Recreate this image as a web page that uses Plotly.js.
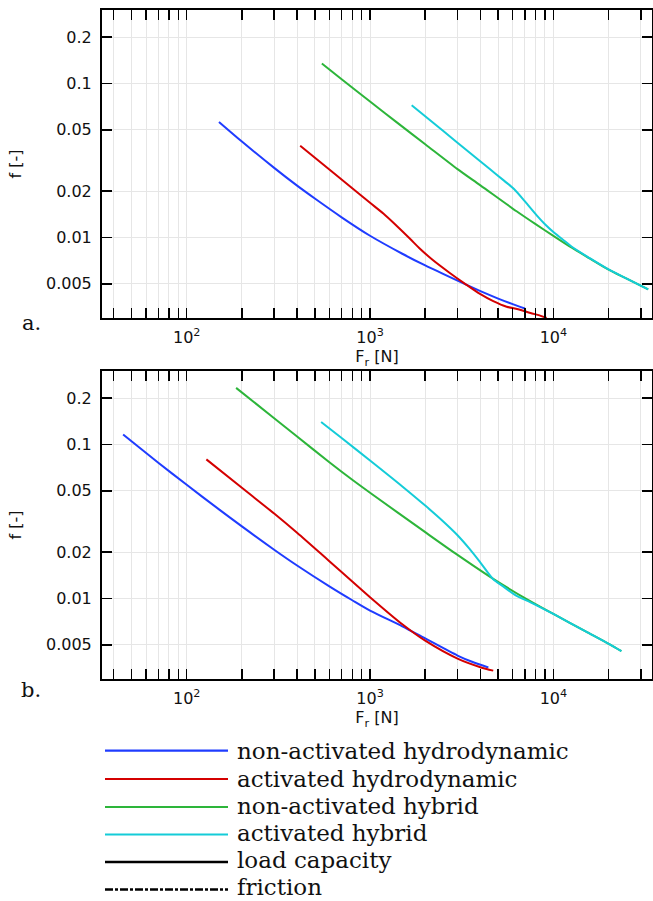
<!DOCTYPE html>
<html>
<head>
<meta charset="utf-8">
<script src="https://cdn.plot.ly/plotly-3.0.1.min.js"></script>
<style>
  html, body { margin:0; padding:0; background:#fff; }
  #chart { width:653px; height:901px; }
</style>
</head>
<body>
<div id="chart"></div>
<script>
// ---------- DATA ----------
// Panel a.
const aBlueF  = [150, 200, 300, 400, 500, 700, 1000, 1500, 2000, 3000, 4000, 5000, 6000, 7000];
const aBlueFr = [0.0563, 0.0420, 0.0283, 0.0217, 0.0179, 0.01352, 0.01026, 0.00784, 0.00658, 0.00524, 0.00448, 0.00401, 0.00369, 0.00346];

const aRedF  = [416, 600, 800, 1000, 1182, 1400, 1652, 1872, 2200, 2700, 3300, 3980, 4700, 5560, 6500, 7500, 8400, 9190];
const aRedFr = [0.0394, 0.0276, 0.0209, 0.0168, 0.0143, 0.01187, 0.00981, 0.00845, 0.00714, 0.00593, 0.0050, 0.0043, 0.00386, 0.00355, 0.00341, 0.00323, 0.00312, 0.00300];

const aGreenF  = [546, 700, 1000, 1400, 2000, 3000, 4000, 6300, 8000, 10000, 12600, 15850, 20000, 25120, 32900];
const aGreenFr = [0.135, 0.1066, 0.0764, 0.0559, 0.0403, 0.0278, 0.0218, 0.0148, 0.0122, 0.01025, 0.00858, 0.00729, 0.00619, 0.0054, 0.0046];

const aCyanF  = [1687, 2500, 3500, 4500, 5400, 6100, 7000, 8090, 9000, 10000, 11200, 12600, 15850, 20000, 25120, 32900];
const aCyanFr = [0.0723, 0.0493, 0.0355, 0.0278, 0.0233, 0.02065, 0.01714, 0.01398, 0.01219, 0.01085, 0.00975, 0.0087, 0.00732, 0.0062, 0.0054, 0.0046];

// Panel b.
const bBlueF  = [45, 70, 100, 150, 200, 300, 400, 600, 800, 1000, 1500, 2000, 3000, 3600, 4420];
const bBlueFr = [0.116, 0.0762, 0.0547, 0.0379, 0.02938, 0.02073, 0.01637, 0.01199, 0.00974, 0.00835, 0.0066, 0.0055, 0.00426, 0.00388, 0.00356];

const bRedF  = [128, 200, 300, 400, 600, 800, 1000, 1500, 2000, 3000, 4000, 4700];
const bRedFr = [0.080, 0.0523, 0.0356, 0.0267, 0.01745, 0.0129, 0.0102, 0.0068, 0.00532, 0.00407, 0.00358, 0.0034];

const bGreenF  = [186, 300, 400, 600, 800, 1000, 2000, 3000, 4700, 7150, 10000, 15000, 20300, 23500];
const bGreenFr = [0.233, 0.1482, 0.1127, 0.0767, 0.059, 0.0486, 0.02695, 0.01918, 0.0134, 0.0099, 0.00793, 0.00612, 0.00504, 0.00455];

const bCyanF  = [541, 700, 1000, 1500, 2000, 2500, 3000, 3500, 4000, 4700, 5300, 6170, 7760, 10000, 15000, 20300, 23500];
const bCyanFr = [0.140, 0.1101, 0.0787, 0.0534, 0.0401, 0.03173, 0.02574, 0.0209, 0.0171, 0.01332, 0.01203, 0.01057, 0.00927, 0.00793, 0.00612, 0.00504, 0.00455];

// Tick labels
const xMajorVals = [100, 1000, 10000];
const xMajorText = ['10<sup>2</sup>', '10<sup>3</sup>', '10<sup>4</sup>'];
const xMinorVals = [40,50,60,70,80,90,200,300,400,500,600,700,800,900,2000,3000,4000,5000,6000,7000,8000,9000,20000,30000];
const yTickVals = [0.005, 0.01, 0.02, 0.05, 0.1, 0.2];
const yTickText = ['0.005', '0.01', '0.02', '0.05', '0.1', '0.2'];

// Legend
const legendLabels = ['non-activated hydrodynamic', 'activated hydrodynamic', 'non-activated hybrid', 'activated hybrid', 'load capacity', 'friction'];
const panelLabels = ['a.', 'b.'];

// ---------- STYLE ----------
const COL = { blue:'#1f3cff', red:'#d40000', green:'#2db53a', cyan:'#14ccd8', black:'#000000' };
const legendColors = [COL.blue, COL.red, COL.green, COL.cyan, COL.black, COL.black];
const legendDash = ['solid', 'solid', 'solid', 'solid', 'solid', '8px,2px,3px,2px'];

const M = { l:102, r:1, t:10, b:222 };
const PW = 653 - M.l - M.r, PH = 901 - M.t - M.b;
const px2x = px => (px - M.l) / PW;
const py2y = py => (901 - M.b - py) / PH;

function tr(x, y, color, xa, ya) {
  return { x, y, xaxis:xa, yaxis:ya, type:'scatter', mode:'lines',
           line:{ color, width:2, shape:'spline', smoothing:0.8 },
           hoverinfo:'skip', showlegend:false };
}

const data = [
  tr(aBlueF, aBlueFr, COL.blue, 'x', 'y'),
  tr(aRedF, aRedFr, COL.red, 'x', 'y'),
  tr(aGreenF, aGreenFr, COL.green, 'x', 'y'),
  tr(aCyanF, aCyanFr, COL.cyan, 'x', 'y'),
  tr(bBlueF, bBlueFr, COL.blue, 'x2', 'y2'),
  tr(bRedF, bRedFr, COL.red, 'x2', 'y2'),
  tr(bGreenF, bGreenFr, COL.green, 'x2', 'y2'),
  tr(bCyanF, bCyanFr, COL.cyan, 'x2', 'y2'),
];

const tickFont = { family:'DejaVu Sans', size:16, color:'#111' };
const titleFont = { family:'DejaVu Sans', size:16, color:'#111' };

function xAxis(anchor) {
  return {
    type:'log', range:[1.538, 4.538], anchor,
    tickvals:xMajorVals, ticktext:xMajorText, tickmode:'array',
    ticks:'inside', ticklen:10, tickwidth:1.5, tickcolor:'#000',
    minor:{ tickmode:'array', tickvals:xMinorVals, ticks:'inside', ticklen:10, tickwidth:1.5, tickcolor:'#000',
            showgrid:true, gridcolor:'#e6e6e6', gridwidth:1 },
    showline:true, linecolor:'#000', linewidth:2, mirror:'ticks',
    showgrid:true, gridcolor:'#e6e6e6', gridwidth:1, zeroline:false,
    tickfont:tickFont, ticklabelstandoff:4,
    title:{ text:'F<sub>r</sub> [N]', font:titleFont, standoff:0 },
    automargin:false, fixedrange:true
  };
}
function yAxis(anchor, domain) {
  return {
    type:'log', range:[Math.log10(0.003), Math.log10(0.3)], anchor, domain,
    tickvals:yTickVals, ticktext:yTickText, tickmode:'array',
    ticks:'inside', ticklen:10, tickwidth:1.5, tickcolor:'#000',
    showline:true, linecolor:'#000', linewidth:2, mirror:'ticks',
    showgrid:true, gridcolor:'#e6e6e6', gridwidth:1, zeroline:false,
    tickfont:tickFont, ticklabelstandoff:5,
    title:{ text:'f [-]', font:titleFont, standoff:20 },
    automargin:false, fixedrange:true
  };
}

const topDom = [py2y(318), 1];
const botDom = [0, py2y(371)];

const shapes = [];
const annotations = [];
const legendRowsPx = [750.7, 779, 807, 834.5, 862, 889.5];
const legendTextPx = [751.5, 778.6, 805.7, 832.8, 859.9, 887];
legendLabels.forEach((lab, i) => {
  const y = py2y(legendRowsPx[i]);
  shapes.push({ type:'line', xref:'paper', yref:'paper', x0:px2x(105), x1:px2x(228), y0:y, y1:y,
                line:{ color:legendColors[i], width:i >= 4 ? 2.5 : 2.2, dash:legendDash[i] } });
  annotations.push({ xref:'paper', yref:'paper', x:px2x(235), y:py2y(legendTextPx[i]), xanchor:'left', yanchor:'middle',
                     text:lab, showarrow:false, font:{ family:'DejaVu Serif', size:23, color:'#111' } });
});
annotations.push({ xref:'paper', yref:'paper', x:px2x(31), y:py2y(323), xanchor:'center', yanchor:'middle',
                   text:panelLabels[0], showarrow:false, font:{ family:'DejaVu Serif', size:21, color:'#111' } });
annotations.push({ xref:'paper', yref:'paper', x:px2x(31), y:py2y(690), xanchor:'center', yanchor:'middle',
                   text:panelLabels[1], showarrow:false, font:{ family:'DejaVu Serif', size:21, color:'#111' } });

const layout = {
  width:653, height:901, margin:M,
  paper_bgcolor:'#fff', plot_bgcolor:'#fff',
  showlegend:false,
  xaxis:xAxis('y'), yaxis:yAxis('x', topDom),
  xaxis2:xAxis('y2'), yaxis2:yAxis('x2', botDom),
  shapes, annotations,
  font:{ family:'DejaVu Sans' }
};

Plotly.newPlot('chart', data, layout, { staticPlot:true, displayModeBar:false });
</script>
</body>
</html>
